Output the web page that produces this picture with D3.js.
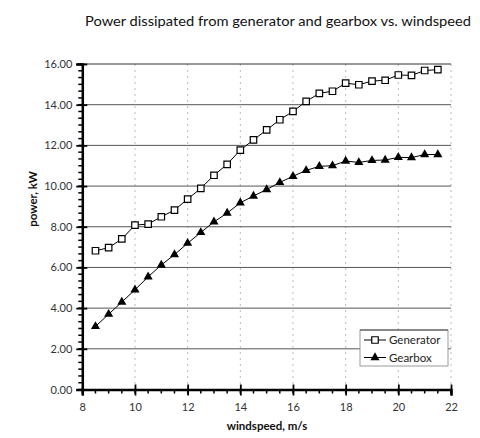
<!DOCTYPE html>
<html><head><meta charset="utf-8">
<script src="https://cdn.jsdelivr.net/npm/d3@7"></script>
<style>body{margin:0;background:#fff}svg{display:block}</style>
</head><body><svg id="c" width="480" height="438"></svg>
<script>
const windspeed = [8.5,9,9.5,10,10.5,11,11.5,12,12.5,13,13.5,14,14.5,15,15.5,16,16.5,17,17.5,18,18.5,19,19.5,20,20.5,21,21.5];
const generator = [6.82,6.97,7.4,8.08,8.13,8.49,8.82,9.36,9.89,10.53,11.07,11.77,12.27,12.76,13.26,13.67,14.16,14.56,14.66,15.06,14.98,15.16,15.2,15.46,15.44,15.68,15.72];
const gearbox = [3.1,3.7,4.3,4.9,5.54,6.12,6.63,7.19,7.72,8.24,8.67,9.18,9.51,9.83,10.18,10.48,10.77,10.97,11.0,11.23,11.16,11.26,11.28,11.41,11.4,11.55,11.55];
const xTicks = [8,10,12,14,16,18,20,22];
const yTicks = [0,2,4,6,8,10,12,14,16];
const seriesNames = ["Generator","Gearbox"];

const svg = d3.select("#c");
const font = "'Lato','DejaVu Sans',sans-serif";
const x = d3.scaleLinear().domain([8,22]).range([82.3,451]);
const y = d3.scaleLinear().domain([0,16]).range([389.5,64]);

// title
svg.append("text").attr("x",278).attr("y",26).attr("text-anchor","middle")
  .attr("font-family",font).attr("font-size",13.5).attr("fill","#111")
  .attr("textLength",386).attr("lengthAdjust","spacingAndGlyphs")
  .text("Power dissipated from generator and gearbox vs. windspeed");

// vertical dotted gridlines
svg.append("g").selectAll("line").data(xTicks.filter(d=>d>8)).join("line")
  .attr("x1",d=>x(d)).attr("x2",d=>x(d)).attr("y1",y(16)).attr("y2",y(0))
  .attr("stroke","#bbb").attr("stroke-width",1).attr("stroke-dasharray","2,4");
// horizontal gridlines
svg.append("g").selectAll("line").data(yTicks.filter(d=>d>0)).join("line")
  .attr("x1",x(8)).attr("x2",x(22)).attr("y1",d=>y(d)).attr("y2",d=>y(d))
  .attr("stroke",d=>d===16?"#333":"#555").attr("stroke-width",1);

// minor ticks
const yMinor = d3.range(0,16.001,1/3);
svg.append("g").selectAll("line").data(yMinor).join("line")
  .attr("x1",x(8)-4).attr("x2",x(8)).attr("y1",d=>y(d)).attr("y2",d=>y(d))
  .attr("stroke","#000").attr("stroke-width",1.5);
const xMinor = d3.range(8,22.001,0.5);
svg.append("g").selectAll("line").data(xMinor).join("line")
  .attr("x1",d=>x(d)).attr("x2",d=>x(d)).attr("y1",y(0)).attr("y2",y(0)+4)
  .attr("stroke","#000").attr("stroke-width",1.5);

// axes
const yAxis = svg.append("g").attr("transform",`translate(${x(8)},0)`)
  .call(d3.axisLeft(y).tickValues(yTicks).tickFormat(d3.format(".2f")).tickSize(6).tickPadding(4));
const xAxis = svg.append("g").attr("transform",`translate(0,${y(0)})`)
  .call(d3.axisBottom(x).tickValues(xTicks).tickFormat(d3.format("d")).tickSize(6).tickPadding(8));
[yAxis,xAxis].forEach(a=>{
  a.select(".domain").attr("stroke","#000").attr("stroke-width",2.5);
  a.selectAll(".tick line").attr("stroke","#000").attr("stroke-width",1.8);
  a.selectAll(".tick text").attr("font-family",font).attr("font-size",11).attr("fill","#333");
});
yAxis.selectAll(".tick line").attr("x1",5);
xAxis.selectAll(".tick line").attr("y1",-5);

// axis titles
svg.append("text").attr("x",267).attr("y",430).attr("text-anchor","middle")
  .attr("font-family",font).attr("font-size",11.5).attr("font-weight","bold").attr("fill","#111")
  .text("windspeed, m/s");
svg.append("text").attr("transform","translate(37,199) rotate(-90)").attr("text-anchor","middle")
  .attr("font-family",font).attr("font-size",11.5).attr("font-weight","bold").attr("fill","#111")
  .text("power, kW");

// lines
const line = d3.line().x(d=>x(d[0])).y(d=>y(d[1]));
const gen = windspeed.map((w,i)=>[w,generator[i]]);
const gear = windspeed.map((w,i)=>[w,gearbox[i]]);
svg.append("path").datum(gen).attr("d",line).attr("fill","none").attr("stroke","#000").attr("stroke-width",1);
svg.append("path").datum(gear).attr("d",line).attr("fill","none").attr("stroke","#000").attr("stroke-width",1);
const sq = d3.symbol().type(d3.symbolSquare).size(42);
const tri = d3.symbol().type(d3.symbolTriangle).size(36);
svg.append("g").selectAll("path").data(gen).join("path")
  .attr("transform",d=>`translate(${x(d[0])},${y(d[1])})`).attr("d",sq)
  .attr("fill","#fff").attr("stroke","#000").attr("stroke-width",1.2);
svg.append("g").selectAll("path").data(gear).join("path")
  .attr("transform",d=>`translate(${x(d[0])},${y(d[1])})`).attr("d",tri)
  .attr("fill","#000");

// legend
const lg = svg.append("g");
lg.append("rect").attr("x",360).attr("y",330).attr("width",88).attr("height",36)
  .attr("fill","#fff").attr("stroke","#999").attr("stroke-width",1);
lg.append("line").attr("x1",360).attr("x2",448).attr("y1",330).attr("y2",330).attr("stroke","#444");
seriesNames.forEach((n,i)=>{
  const yy = 340+i*17.5;
  lg.append("line").attr("x1",364).attr("x2",386).attr("y1",yy).attr("y2",yy).attr("stroke","#000");
  lg.append("path").attr("transform",`translate(375,${yy})`).attr("d",i===0?sq:tri)
    .attr("fill",i===0?"#fff":"#000").attr("stroke",i===0?"#000":"none").attr("stroke-width",1.2);
  lg.append("text").attr("x",389).attr("y",yy+4).attr("font-family",font).attr("font-size",11.5)
    .attr("fill","#222").text(n);
});
</script></body></html>
